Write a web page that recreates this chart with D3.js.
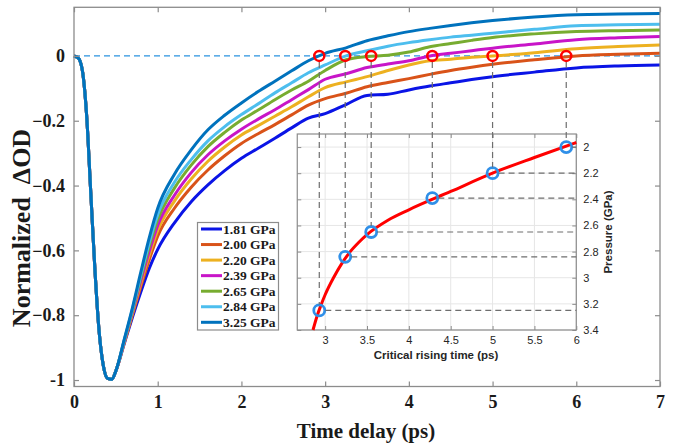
<!DOCTYPE html>
<html>
<head>
<meta charset="utf-8">
<script src="https://cdn.jsdelivr.net/npm/d3@7"></script>
<style>
  body { margin: 0; background: #fff; }
  svg { display: block; }
</style>
</head>
<body>
<div id="chart"></div>
<script>
// series labels and colours
const pressures = ["1.81 GPa", "2.00 GPa", "2.20 GPa", "2.39 GPa", "2.65 GPa", "2.84 GPa", "3.25 GPa"];
const colors = ["#0a14e6", "#d95319", "#edb120", "#c815c8", "#77ac30", "#4dbeee", "#0072bd"];

// shared fast dip (all curves overlap here)
const dipTimes = [0, 0.05, 0.1, 0.15, 0.2, 0.25, 0.3, 0.35, 0.4, 0.45, 0.5];
const dipValues = [0, -0.006, -0.045, -0.18, -0.42, -0.66, -0.85, -0.955, -0.995, -0.998, -0.972];

// recovery, one array per pressure
const riseTimes = [0.6, 0.7, 0.8, 0.9, 1.0, 1.2, 1.4, 1.6, 1.8, 2.0, 2.2, 2.4, 2.6, 2.8, 3.0, 3.25, 3.5, 3.75, 4.0, 4.25, 4.5, 4.75, 5.0, 5.5, 6.0, 6.5, 7.0];
const rise181 = [-0.888, -0.805, -0.727, -0.655, -0.597, -0.515, -0.45, -0.398, -0.354, -0.316, -0.285, -0.254, -0.222, -0.192, -0.178, -0.15, -0.122, -0.118, -0.105, -0.093, -0.083, -0.073, -0.064, -0.05, -0.037, -0.031, -0.028];
const rise200 = [-0.885, -0.797, -0.71, -0.628, -0.556, -0.47, -0.405, -0.352, -0.308, -0.27, -0.24, -0.212, -0.182, -0.152, -0.132, -0.115, -0.095, -0.082, -0.07, -0.057, -0.045, -0.035, -0.026, -0.012, 0.0, 0.005, 0.008];
const rise220 = [-0.883, -0.792, -0.70, -0.614, -0.538, -0.448, -0.38, -0.325, -0.281, -0.244, -0.215, -0.186, -0.157, -0.126, -0.098, -0.08, -0.064, -0.045, -0.028, -0.015, -0.01, -0.004, 0.0, 0.01, 0.022, 0.029, 0.034];
const rise239 = [-0.881, -0.788, -0.692, -0.602, -0.523, -0.43, -0.36, -0.305, -0.262, -0.226, -0.195, -0.166, -0.135, -0.104, -0.072, -0.055, -0.036, -0.025, -0.015, 0.0, 0.008, 0.016, 0.024, 0.037, 0.05, 0.056, 0.06];
const rise265 = [-0.879, -0.784, -0.682, -0.587, -0.505, -0.408, -0.337, -0.28, -0.236, -0.198, -0.167, -0.135, -0.105, -0.078, -0.045, -0.012, -0.002, 0.002, 0.012, 0.028, 0.038, 0.048, 0.057, 0.068, 0.075, 0.078, 0.08];
const rise284 = [-0.877, -0.78, -0.675, -0.575, -0.49, -0.39, -0.32, -0.262, -0.218, -0.181, -0.148, -0.114, -0.083, -0.052, -0.028, 0.0, 0.016, 0.03, 0.041, 0.05, 0.058, 0.064, 0.07, 0.082, 0.093, 0.096, 0.098];
const rise325 = [-0.875, -0.775, -0.665, -0.56, -0.47, -0.365, -0.29, -0.228, -0.183, -0.145, -0.11, -0.078, -0.046, -0.015, 0.008, 0.025, 0.047, 0.062, 0.075, 0.085, 0.094, 0.102, 0.109, 0.12, 0.127, 0.129, 0.131];
const riseSeries = [rise181, rise200, rise220, rise239, rise265, rise284, rise325];

// zero crossings (critical rising time) and their pressures
const crossTimes = [5.88, 5.0, 4.28, 3.55, 3.24, 2.93];
const crossPressures = [2.0, 2.2, 2.39, 2.65, 2.84, 3.25];

// red fitted curve of the inset
const fitTimes = [2.855, 2.9, 2.95, 3.0, 3.1, 3.2, 3.3, 3.4, 3.5, 3.75, 4.0, 4.5, 5.0, 5.5, 6.0];
const fitPressures = [3.40, 3.30, 3.21, 3.13, 3.0, 2.89, 2.80, 2.73, 2.67, 2.56, 2.48, 2.34, 2.20, 2.08, 1.965];

const xTicks = [0, 1, 2, 3, 4, 5, 6, 7];
const yTicks = [0, -0.2, -0.4, -0.6, -0.8, -1];
const insetXTicks = [3, 3.5, 4, 4.5, 5, 5.5, 6];
const insetYTicks = [2, 2.2, 2.4, 2.6, 2.8, 3, 3.2, 3.4];

const W = 678, H = 443;
const svg = d3.select("#chart").append("svg").attr("width", W).attr("height", H);

const x = d3.scaleLinear().domain([0, 7]).range([74, 660]);
const y = d3.scaleLinear().domain([-1.02, 0.15]).range([386.5, 7.3]);

const serif = "'Liberation Serif', 'Times New Roman', serif";
const sans = "'Liberation Sans', Arial, sans-serif";

// zero reference line
svg.append("line")
    .attr("x1", x(0)).attr("x2", x(7))
    .attr("y1", y(0)).attr("y2", y(0))
    .attr("stroke", "#2b93e0").attr("stroke-width", 1.3)
    .attr("stroke-dasharray", "6,4");

// curves
const line = d3.line().x(d => x(d[0])).y(d => y(d[1])).curve(d3.curveMonotoneX);
riseSeries.forEach((vals, i) => {
    const pts = dipTimes.map((t, j) => [t, dipValues[j]])
        .concat(riseTimes.map((t, j) => [t, vals[j]]));
    svg.append("path")
        .datum(pts)
        .attr("d", line)
        .attr("fill", "none")
        .attr("stroke", colors[i])
        .attr("stroke-width", 3)
        .attr("stroke-linejoin", "round");
});

// main frame and ticks
svg.append("rect")
    .attr("x", x(0)).attr("y", y(0.15))
    .attr("width", x(7) - x(0)).attr("height", y(-1.02) - y(0.15))
    .attr("fill", "none").attr("stroke", "#8c8c8c").attr("stroke-width", 1.3);

const gx = svg.append("g").attr("transform", `translate(0,${y(-1.02)})`)
    .call(d3.axisBottom(x).tickValues(xTicks).tickSize(-5).tickPadding(8).tickFormat(d3.format("d")));
const gxTop = svg.append("g").attr("transform", `translate(0,${y(0.15)})`)
    .call(d3.axisTop(x).tickValues(xTicks).tickSize(-5).tickFormat(""));
const gy = svg.append("g").attr("transform", `translate(${x(0)},0)`)
    .call(d3.axisLeft(y).tickValues(yTicks).tickSize(-5).tickPadding(9).tickFormat(d => d === 0 ? "0" : d === -1 ? "-1" : d3.format(".1f")(d)));
const gyRight = svg.append("g").attr("transform", `translate(${x(7)},0)`)
    .call(d3.axisRight(y).tickValues(yTicks).tickSize(-5).tickFormat(""));
[gx, gxTop, gy, gyRight].forEach(g => {
    g.select(".domain").remove();
    g.selectAll(".tick line").attr("stroke", "#8c8c8c").attr("stroke-width", 1.2);
    g.selectAll("text").attr("fill", "#1a1a1a")
        .style("font-family", serif).style("font-size", "18px").style("font-weight", "bold");
});
gx.selectAll("text").attr("dy", "0.75em");

// axis titles
svg.append("text")
    .attr("x", 366).attr("y", 438)
    .attr("text-anchor", "middle")
    .style("font-family", serif).style("font-size", "21px").style("font-weight", "bold")
    .attr("fill", "#1a1a1a")
    .text("Time delay (ps)");
svg.append("text")
    .attr("transform", "translate(30,228) rotate(-90)")
    .attr("text-anchor", "middle")
    .style("font-family", serif).style("font-size", "26px").style("font-weight", "bold")
    .attr("fill", "#1a1a1a")
    .text("Normalized \u00a0\u0394OD");

// legend
const leg = svg.append("g");
leg.append("rect")
    .attr("x", 197.5).attr("y", 222.5).attr("width", 81).attr("height", 107.5)
    .attr("fill", "#fff").attr("stroke", "#8c8c8c").attr("stroke-width", 1.2);
pressures.forEach((p, i) => {
    const cy = 229 + i * 15.55;
    leg.append("line")
        .attr("x1", 201).attr("x2", 222).attr("y1", cy).attr("y2", cy)
        .attr("stroke", colors[i]).attr("stroke-width", 3);
    leg.append("text")
        .attr("x", 223).attr("y", cy).attr("dy", "0.35em")
        .style("font-family", serif).style("font-size", "13.5px").style("font-weight", "bold")
        .attr("fill", "#1a1a1a")
        .text(p);
});

// inset
const ix = d3.scaleLinear().domain([2.667, 6]).range([x(2.667), x(6)]);
const iy = d3.scaleLinear().domain([1.9, 3.4]).range([134, 330]);
const inset = svg.append("g");
inset.append("rect")
    .attr("x", ix(2.667)).attr("y", iy(1.9))
    .attr("width", ix(6) - ix(2.667)).attr("height", iy(3.4) - iy(1.9))
    .attr("fill", "#fff");

// grid
inset.selectAll(".gx").data(insetXTicks).enter().append("line")
    .attr("x1", d => ix(d)).attr("x2", d => ix(d))
    .attr("y1", iy(1.9)).attr("y2", iy(3.4))
    .attr("stroke", "#e6e6e6").attr("stroke-width", 1);
inset.selectAll(".gy").data(insetYTicks).enter().append("line")
    .attr("x1", ix(2.667)).attr("x2", ix(6))
    .attr("y1", d => iy(d)).attr("y2", d => iy(d))
    .attr("stroke", "#e6e6e6").attr("stroke-width", 1);

// dashed guides from the zero crossings down to the inset points and across to the right axis
const guide = svg.append("g").attr("stroke", "#6e6e6e").attr("stroke-width", 1.2).attr("stroke-dasharray", "6,4");
crossTimes.forEach((t, i) => {
    guide.append("line")
        .attr("x1", x(t)).attr("x2", x(t))
        .attr("y1", y(0) + 6).attr("y2", iy(crossPressures[i]) - 6);
    guide.append("line")
        .attr("x1", ix(t) + 6).attr("x2", ix(6))
        .attr("y1", iy(crossPressures[i])).attr("y2", iy(crossPressures[i]));
});

// inset frame and ticks
inset.append("rect")
    .attr("x", ix(2.667)).attr("y", iy(1.9))
    .attr("width", ix(6) - ix(2.667)).attr("height", iy(3.4) - iy(1.9))
    .attr("fill", "none").attr("stroke", "#8c8c8c").attr("stroke-width", 1.2);
const igx = inset.append("g").attr("transform", `translate(0,${iy(3.4)})`)
    .call(d3.axisBottom(ix).tickValues(insetXTicks).tickSize(-4).tickPadding(6).tickFormat(d3.format("")));
const igxTop = inset.append("g").attr("transform", `translate(0,${iy(1.9)})`)
    .call(d3.axisTop(ix).tickValues(insetXTicks).tickSize(-4).tickFormat(""));
const igy = inset.append("g").attr("transform", `translate(${ix(6)},0)`)
    .call(d3.axisRight(iy).tickValues(insetYTicks).tickSize(-4).tickPadding(7).tickFormat(d3.format("")));
const igyLeft = inset.append("g").attr("transform", `translate(${ix(2.667)},0)`)
    .call(d3.axisLeft(iy).tickValues(insetYTicks).tickSize(-4).tickFormat(""));
[igx, igxTop, igy, igyLeft].forEach(g => {
    g.select(".domain").remove();
    g.selectAll(".tick line").attr("stroke", "#8c8c8c");
    g.selectAll("text").attr("fill", "#262626")
        .style("font-family", sans).style("font-size", "11px");
});

inset.append("text")
    .attr("x", 436).attr("y", 359)
    .attr("text-anchor", "middle")
    .style("font-family", sans).style("font-size", "11.5px").style("font-weight", "bold")
    .attr("fill", "#262626")
    .text("Critical rising time (ps)");
inset.append("text")
    .attr("transform", "translate(612,232) rotate(-90)")
    .attr("text-anchor", "middle")
    .style("font-family", sans).style("font-size", "11.5px").style("font-weight", "bold")
    .attr("fill", "#262626")
    .text("Pressure (GPa)");

// fitted curve
inset.append("path")
    .datum(fitTimes.map((t, i) => [t, fitPressures[i]]))
    .attr("d", d3.line().x(d => ix(d[0])).y(d => iy(d[1])).curve(d3.curveMonotoneX))
    .attr("fill", "none").attr("stroke", "#ff0000").attr("stroke-width", 3);

// data points of the inset
inset.selectAll(".pt").data(crossTimes).enter().append("circle")
    .attr("cx", d => ix(d))
    .attr("cy", (d, i) => iy(crossPressures[i]))
    .attr("r", 5.5)
    .attr("fill", "none").attr("stroke", "#2f8fe8").attr("stroke-width", 2.8);

// red circles at the zero crossings
svg.selectAll(".zc").data(crossTimes).enter().append("circle")
    .attr("cx", d => x(d)).attr("cy", y(0))
    .attr("r", 5)
    .attr("fill", "none").attr("stroke", "#ff0000").attr("stroke-width", 2.5);
</script>
</body>
</html>
